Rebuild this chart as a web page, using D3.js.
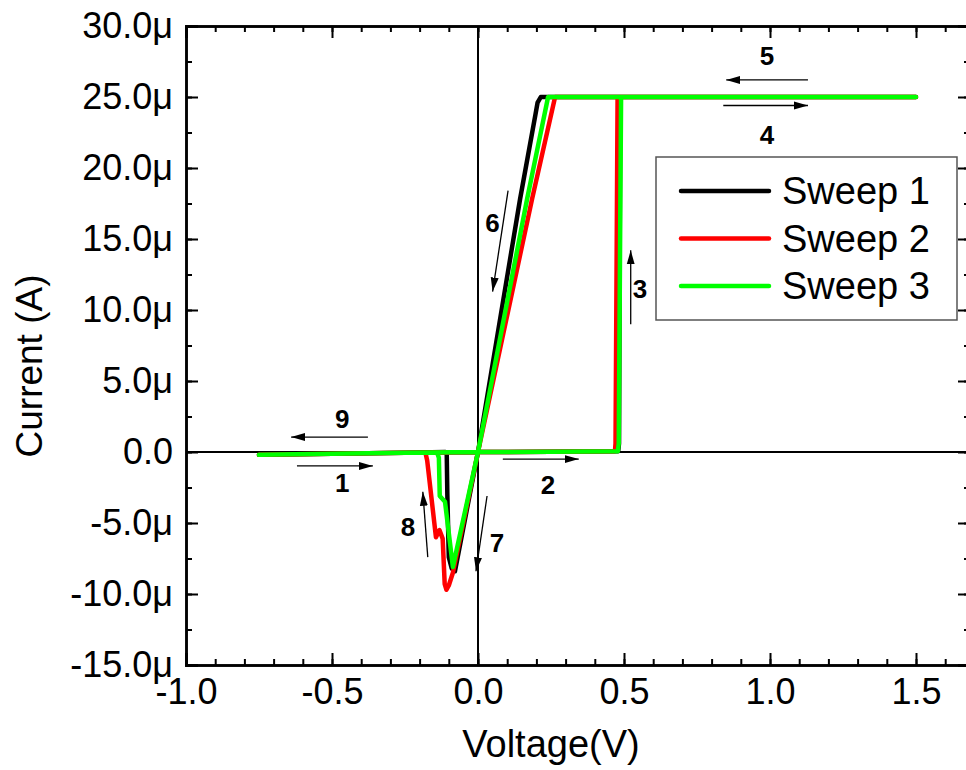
<!DOCTYPE html>
<meta charset="utf-8">
<title>I-V sweeps</title>
<style>
body { margin: 0; background: #fff; font-family: "Liberation Sans", Arial, sans-serif; }
svg { display: block; }
.tick text { font-family: "Liberation Sans", Arial, sans-serif; }
</style>
<body>
<svg id="chart" width="966" height="770"></svg>
</body>
<script src="https://cdn.jsdelivr.net/npm/d3@7"></script>
<script>

// voltage (V), current (uA) in sweep order: -0.75 -> 1.5 -> -0.75
var sweep1 = [[-0.75,-0.2],[-0.5,-0.12],[-0.25,-0.05],[0,0],[0.25,0.02],[0.48,0.05],[0.483,0.6],[0.487,25],
  [1.5,25],[0.215,25],[0.204,24.6],[0.197,23.8],[0.144,17.8],[0,0],[-0.079,-8.4],[-0.09,-8.2],
  [-0.1,-7.4],[-0.105,-3],[-0.107,-0.2],[-0.112,0],[-0.25,-0.05],[-0.5,-0.12],[-0.75,-0.2]];
var sweep2 = [[-0.75,-0.2],[-0.5,-0.12],[-0.25,-0.05],[0,0],[0.25,0.02],[0.469,0.05],[0.471,0.6],[0.478,25],
  [1.5,25],[0.264,25],[0.185,17.8],[0,0],[-0.086,-8.5],[-0.1,-9.4],[-0.108,-9.7],[-0.114,-9.3],
  [-0.121,-6.1],[-0.132,-5.5],[-0.144,-6.0],[-0.174,-0.6],[-0.18,-0.05],[-0.25,-0.05],[-0.5,-0.12],[-0.75,-0.2]];
var sweep3 = [[-0.75,-0.2],[-0.5,-0.12],[-0.25,-0.05],[0,0],[0.25,0.02],[0.479,0.05],[0.482,0.6],[0.49,25],
  [1.5,25],[0.24,25],[0.168,17.8],[0,0],[-0.086,-8.1],[-0.113,-3.5],[-0.131,-3.1],[-0.134,-0.4],
  [-0.14,-0.05],[-0.25,-0.05],[-0.5,-0.12],[-0.75,-0.2]];

var seriesNames = ["Sweep 1", "Sweep 2", "Sweep 3"];
var seriesColors = ["#000000", "#ff0000", "#00ff00"];
var xTicks = [-1.0, -0.5, 0.0, 0.5, 1.0, 1.5];
var yTicks = [-15, -10, -5, 0, 5, 10, 15, 20, 25, 30];

// direction arrows: label, from [V,uA], to [V,uA], label position [V,uA]
var arrows = [
  {n:"1", from:[-0.62,-0.98], to:[-0.36,-0.98], at:[-0.465,-2.2]},
  {n:"2", from:[0.085,-0.5], to:[0.345,-0.5], at:[0.24,-2.3]},
  {n:"3", from:[0.523,9.0], to:[0.523,14.2], at:[0.555,11.5]},
  {n:"4", from:[0.84,24.4], to:[1.13,24.4], at:[0.99,22.3]},
  {n:"5", from:[1.13,26.2], to:[0.85,26.2], at:[0.99,27.9]},
  {n:"6", from:[0.103,18.4], to:[0.05,11.3], at:[0.05,16.1]},
  {n:"7", from:[0.031,-3.1], to:[-0.007,-8.4], at:[0.065,-6.4]},
  {n:"8", from:[-0.172,-7.4], to:[-0.189,-2.8], at:[-0.24,-5.3]},
  {n:"9", from:[-0.377,1.05], to:[-0.64,1.05], at:[-0.465,2.3]}
];

var svg = d3.select("#chart");
var mLeft = 186, mRight = 970, mTop = 26, mBottom = 665;

var x = d3.scaleLinear().domain([-1.0, (970-186)/292 - 1.0]).range([mLeft, mRight]);
var y = d3.scaleLinear().domain([-15, 30]).range([mBottom, mTop]);

var f1 = function(d) { return d.toFixed(1); };
var fmtY = function(d) { return d === 0 ? "0.0" : d.toFixed(1) + "\u03bc"; };

// minor ticks
var xMinor = d3.range(-10, 17).map(function(d){ return d / 10; });
var yMinor = d3.range(-6, 13).map(function(d){ return d * 2.5; });

svg.append("defs").append("marker")
  .attr("id", "head").attr("viewBox", "0 0 14 10").attr("refX", 14).attr("refY", 5)
  .attr("markerWidth", 14).attr("markerHeight", 10).attr("markerUnits", "userSpaceOnUse")
  .attr("orient", "auto")
  .append("path").attr("d", "M0,1 L14,5 L0,9 Z").attr("fill", "#000");

// zero lines
svg.append("line").attr("x1", mLeft).attr("x2", mRight).attr("y1", y(0)).attr("y2", y(0))
  .attr("stroke", "#000").attr("stroke-width", 2);
svg.append("line").attr("x1", x(0)).attr("x2", x(0)).attr("y1", mTop).attr("y2", mBottom)
  .attr("stroke", "#000").attr("stroke-width", 2);

// curves
var line = d3.line().x(function(d){ return x(d[0]); }).y(function(d){ return y(d[1]); });
[sweep1, sweep2, sweep3].forEach(function(s, i) {
  svg.append("path").datum(s).attr("d", line)
    .attr("fill", "none").attr("stroke", seriesColors[i]).attr("stroke-width", 4.5)
    .attr("stroke-linejoin", "round").attr("stroke-linecap", "round");
});

// axes (ticks inward)
function styleAxis(g) {
  g.select(".domain").attr("stroke-width", 2.5);
  g.selectAll(".tick line").attr("stroke-width", 2);
}
svg.append("g").attr("transform", "translate(0," + mBottom + ")")
  .call(d3.axisBottom(x).tickValues(xMinor).tickSize(-6).tickFormat(""))
  .call(styleAxis);
svg.append("g").attr("transform", "translate(0," + mBottom + ")")
  .call(d3.axisBottom(x).tickValues(xTicks).tickSize(-12).tickPadding(13).tickFormat(f1))
  .call(styleAxis)
  .selectAll("text").attr("font-size", 36).attr("fill", "#000");
svg.append("g").attr("transform", "translate(0," + mTop + ")")
  .call(d3.axisTop(x).tickValues(xMinor).tickSize(-6).tickFormat("")).call(styleAxis);
svg.append("g").attr("transform", "translate(0," + mTop + ")")
  .call(d3.axisTop(x).tickValues(xTicks).tickSize(-12).tickFormat("")).call(styleAxis);

svg.append("g").attr("transform", "translate(" + mLeft + ",0)")
  .call(d3.axisLeft(y).tickValues(yMinor).tickSize(-6).tickFormat("")).call(styleAxis);
svg.append("g").attr("transform", "translate(" + mLeft + ",0)")
  .call(d3.axisLeft(y).tickValues(yTicks).tickSize(-12).tickPadding(13).tickFormat(fmtY))
  .call(styleAxis)
  .selectAll("text").attr("font-size", 36).attr("fill", "#000");
svg.append("g").attr("transform", "translate(" + mRight + ",0)")
  .call(d3.axisRight(y).tickValues(yMinor).tickSize(-6).tickFormat("")).call(styleAxis);
svg.append("g").attr("transform", "translate(" + mRight + ",0)")
  .call(d3.axisRight(y).tickValues(yTicks).tickSize(-12).tickFormat("")).call(styleAxis);

// axis titles
svg.append("text").attr("x", 551).attr("y", 757).attr("text-anchor", "middle")
  .attr("font-size", 38).text("Voltage(V)");
svg.append("text").attr("transform", "translate(42,366) rotate(-90)").attr("text-anchor", "middle")
  .attr("font-size", 37).text("Current (A)");

// arrows
arrows.forEach(function(a) {
  svg.append("line")
    .attr("x1", x(a.from[0])).attr("y1", y(a.from[1]))
    .attr("x2", x(a.to[0])).attr("y2", y(a.to[1]))
    .attr("stroke", "#000").attr("stroke-width", 1.3).attr("marker-end", "url(#head)");
  svg.append("text").attr("x", x(a.at[0])).attr("y", y(a.at[1]))
    .attr("text-anchor", "middle").attr("dominant-baseline", "central")
    .attr("font-size", 26).attr("font-weight", "bold").text(a.n);
});

// legend
var lg = svg.append("g");
lg.append("rect").attr("x", 656).attr("y", 157).attr("width", 301).attr("height", 163)
  .attr("fill", "#fff").attr("stroke", "#555").attr("stroke-width", 1.5);
seriesNames.forEach(function(n, i) {
  var yy = 191 + i * 47.5;
  lg.append("line").attr("x1", 681).attr("x2", 769).attr("y1", yy).attr("y2", yy)
    .attr("stroke", seriesColors[i]).attr("stroke-width", 4.5).attr("stroke-linecap", "round");
  lg.append("text").attr("x", 782).attr("y", yy + 13).attr("font-size", 38).text(n);
});

</script>
